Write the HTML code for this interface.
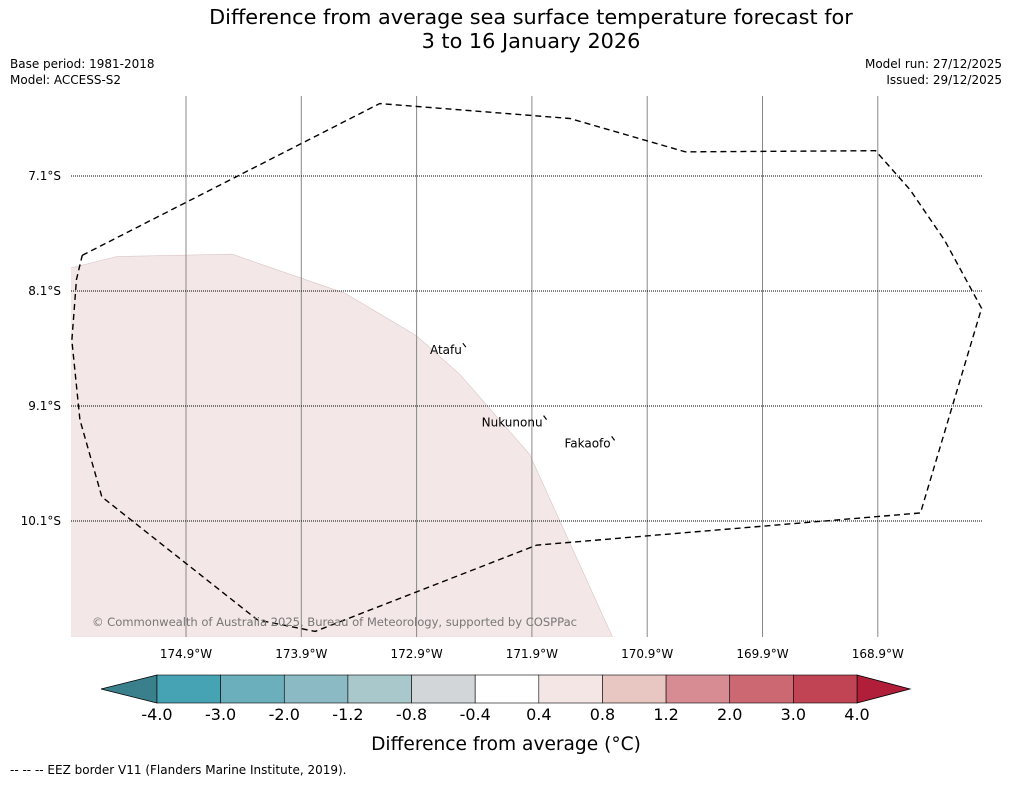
<!DOCTYPE html>
<html><head><meta charset="utf-8"><style>
body{margin:0;background:#fff;font-family:"DejaVu Sans","Liberation Sans",sans-serif;}
</style></head><body>
<svg id="chart" width="1011" height="781" xmlns="http://www.w3.org/2000/svg" font-family="DejaVu Sans, Liberation Sans, sans-serif">
<text x="531" y="24" font-size="20.8" text-anchor="middle">Difference from average sea surface temperature forecast for</text>
<text x="531" y="48" font-size="20.8" text-anchor="middle">3 to 16 January 2026</text>
<text x="10" y="68" font-size="12">Base period: 1981-2018</text>
<text x="10" y="84" font-size="12">Model: ACCESS-S2</text>
<text x="1002" y="68" font-size="12" text-anchor="end">Model run: 27/12/2025</text>
<text x="1002" y="84" font-size="12" text-anchor="end">Issued: 29/12/2025</text>
<g id="map"></g>
<g id="cbar"></g>
<text x="506" y="750" font-size="18.6" text-anchor="middle">Difference from average (°C)</text>
<text x="10" y="774" font-size="12">--  --  -- EEZ border V11 (Flanders Marine Institute, 2019).</text>
</svg>
<script>
const lonTicks=[174.9,173.9,172.9,171.9,170.9,169.9,168.9];
const latTicks=[7.1,8.1,9.1,10.1];
const levels=[-4.0,-3.0,-2.0,-1.2,-0.8,-0.4,0.4,0.8,1.2,2.0,3.0,4.0];
const colors=["#46a3b3","#6aafbb","#8bbac5","#a9c8cc","#d2d6d9","#ffffff","#f5e6e6","#e8c6c2","#d78c94","#cc6872","#c04454"];
const anomalyLon=[175.9,175.5,174.5,173.52,172.9,172.52,171.92,171.2,175.9];
const anomalyLat=[7.9,7.8,7.78,8.12,8.49,8.83,9.52,11.11,11.11];
const eezLon=[175.8,173.22,171.57,170.57,168.92,168.62,168.32,168.0,168.53,171.86,173.78,174.28,175.63,175.82,175.89,175.85,175.8];
const eezLat=[7.79,6.47,6.6,6.89,6.88,7.22,7.66,8.25,10.03,10.31,11.06,10.96,9.89,9.22,8.53,8.0,7.79];
const islands=[["Atafu",172.49,8.58],["Nukunonu",171.79,9.21],["Fakaofo",171.2,9.39]];
const NS="http://www.w3.org/2000/svg";
const X=l=>186+(174.9-l)*115.3, Y=a=>176+(a-7.1)*115;
function mk(t,a,p){const e=document.createElementNS(NS,t);for(const k in a)e.setAttribute(k,a[k]);p.appendChild(e);return e;}
const map=document.getElementById('map');
const clip=mk('clipPath',{id:'mc'},map);mk('rect',{x:71,y:96,width:911,height:541},clip);
const g=mk('g',{'clip-path':'url(#mc)'},map);
const poly=mk('polygon',{points:anomalyLon.map((l,i)=>X(l)+','+Y(anomalyLat[i])).join(' '),fill:'#f4e7e7',stroke:'#d8c6c6','stroke-width':0.6},g);


lonTicks.forEach(l=>{const x=X(l);
 const ln=mk('line',{x1:x,x2:x,y1:96,y2:637,stroke:'#888','stroke-width':1},map);
 
 const t=mk('text',{x:x,y:658,'font-size':12,'text-anchor':'middle'},map);t.textContent=l.toFixed(1)+'°W';
 });
latTicks.forEach(a=>{const y=Y(a);
 const ln=mk('line',{x1:71,x2:982,y1:y,y2:y,stroke:'#000','stroke-width':1,'stroke-dasharray':'1,1'},map);
 
 const t=mk('text',{x:61,y:y+4,'font-size':12,'text-anchor':'end'},map);t.textContent=a.toFixed(1)+'°S';
 });
const eez=mk('polyline',{points:eezLon.map((l,i)=>X(l)+','+Y(eezLat[i])).join(' '),fill:'none',stroke:'#000','stroke-width':1.4,'stroke-dasharray':'6,4'},map);

islands.forEach(d=>{const x=X(d[1]),y=Y(d[2]);
 const m=mk('line',{x1:x-1,y1:y-3,x2:x+2,y2:y+1,stroke:'#000','stroke-width':1.2},map);
 
 const t=mk('text',{x:x-2,y:y+8,'font-size':12,'text-anchor':'end'},map);t.textContent=d[0];
 });
const cp=mk('text',{x:92,y:626,'font-size':11.6,fill:'#777',textLength:485},map);cp.textContent='© Commonwealth of Australia 2025, Bureau of Meteorology, supported by COSPPac';

const cb=document.getElementById('cbar');
const x0=157,x1=857,y0=675,y1=703,bw=(x1-x0)/colors.length;
const lt=mk('polygon',{points:`${x0},${y0} ${x0},${y1} 101,689`,fill:'#3a808c',stroke:'#000','stroke-width':0.8},cb);

const rt=mk('polygon',{points:`${x1},${y0} ${x1},${y1} 910,689`,fill:'#b01e3a',stroke:'#000','stroke-width':0.8},cb);

colors.forEach((c,i)=>{const r=mk('rect',{x:x0+i*bw,y:y0,width:bw,height:y1-y0,fill:c,stroke:'#000','stroke-width':0.6},cb);
 });
levels.forEach((v,i)=>{const t=mk('text',{x:x0+i*bw,y:720,'font-size':16,'text-anchor':'middle'},cb);t.textContent=v.toFixed(1);
 });
</script>
</body></html>
